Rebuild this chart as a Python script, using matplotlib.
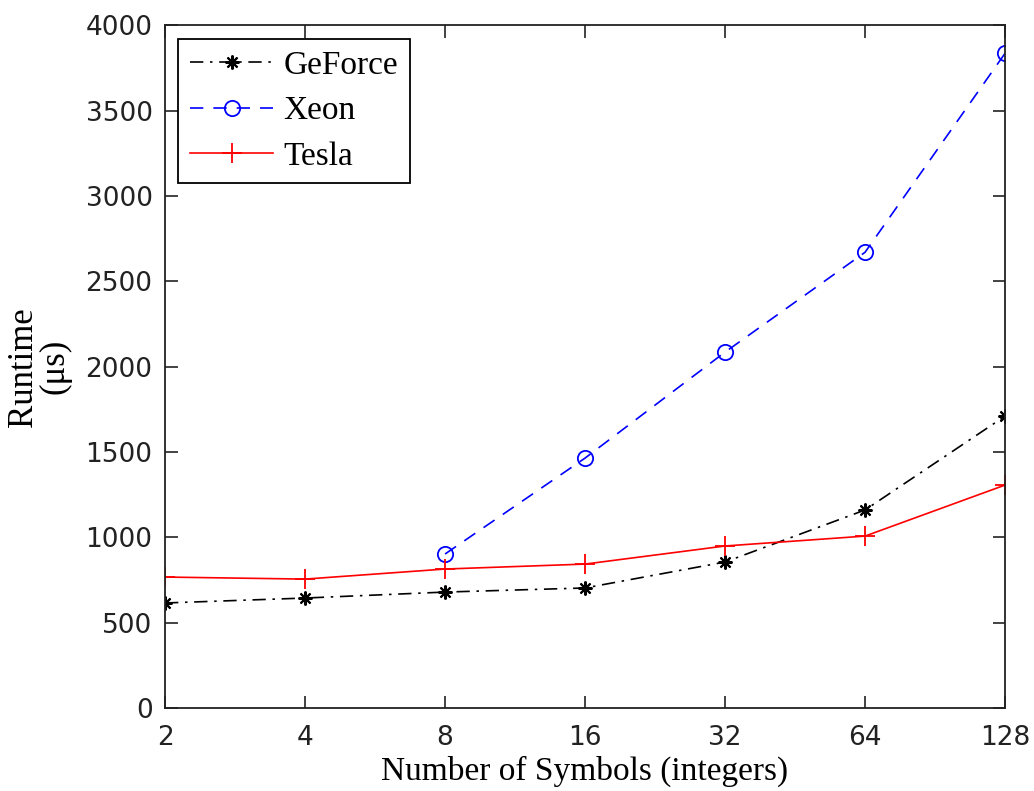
import matplotlib.pyplot as plt
import numpy as np

plt.rcParams['font.family'] = ['Liberation Serif', 'DejaVu Serif']

symbols = [2, 4, 8, 16, 32, 64, 128]
geforce = [615, 644, 679, 703, 855, 1160, 1710]
xeon_symbols = [8, 16, 32, 64, 128]
xeon = [902, 1464, 2085, 2670, 3836]
tesla = [767, 755, 814, 843, 949, 1007, 1306]

fig = plt.figure(figsize=(10.34, 7.91), dpi=100)
ax = fig.add_axes([0.1596, 0.105, 0.8124, 0.863])

ax.plot(symbols, geforce, color='black', linestyle=(0, (8, 4, 1.5, 4)), linewidth=1.2,
        marker=(8, 2, 0), markersize=10, markeredgewidth=1.5, label='GeForce')
ax.plot(xeon_symbols, xeon, color='blue', linestyle=(0, (8, 6)), linewidth=1.2,
        marker='o', markersize=11, markerfacecolor='none', markeredgewidth=1.3, label='Xeon')
ax.plot(symbols, tesla, color='red', linestyle='-', linewidth=1.2,
        marker='+', markersize=15, markeredgewidth=1.3, label='Tesla')

ax.set_xscale('log', base=2)
ax.set_xlim(2, 128)
ax.set_ylim(0, 4000)
ax.set_xticks(symbols)
ax.set_xticklabels([str(s) for s in symbols])
ax.minorticks_off()
ax.set_yticks(np.arange(0, 4001, 500))
for lbl in ax.get_xticklabels() + ax.get_yticklabels():
    lbl.set_family('DejaVu Sans')

ax.tick_params(direction='in', top=True, right=True, length=9, width=1.2,
               labelsize=19, colors='#222222', labelcolor='#222222')
ax.tick_params(axis='y', pad=9)
ax.tick_params(axis='x', pad=12)
for sp in ax.spines.values():
    sp.set_linewidth(1.3)
    sp.set_color('#222222')

ax.set_xlabel('Number of Symbols (integers)', fontsize=24, labelpad=4)
ax.set_ylabel('Runtime\n(μs)', fontsize=25, linespacing=0.95, labelpad=10)

leg = ax.legend(loc='upper left', fontsize=24, fancybox=False, edgecolor='black',
                framealpha=1, handlelength=2.5, handletextpad=0.3,
                borderaxespad=0.4, labelspacing=0.45, borderpad=0.35)
leg.get_frame().set_linewidth(1.3)

fig.savefig('out.png', dpi=100)
